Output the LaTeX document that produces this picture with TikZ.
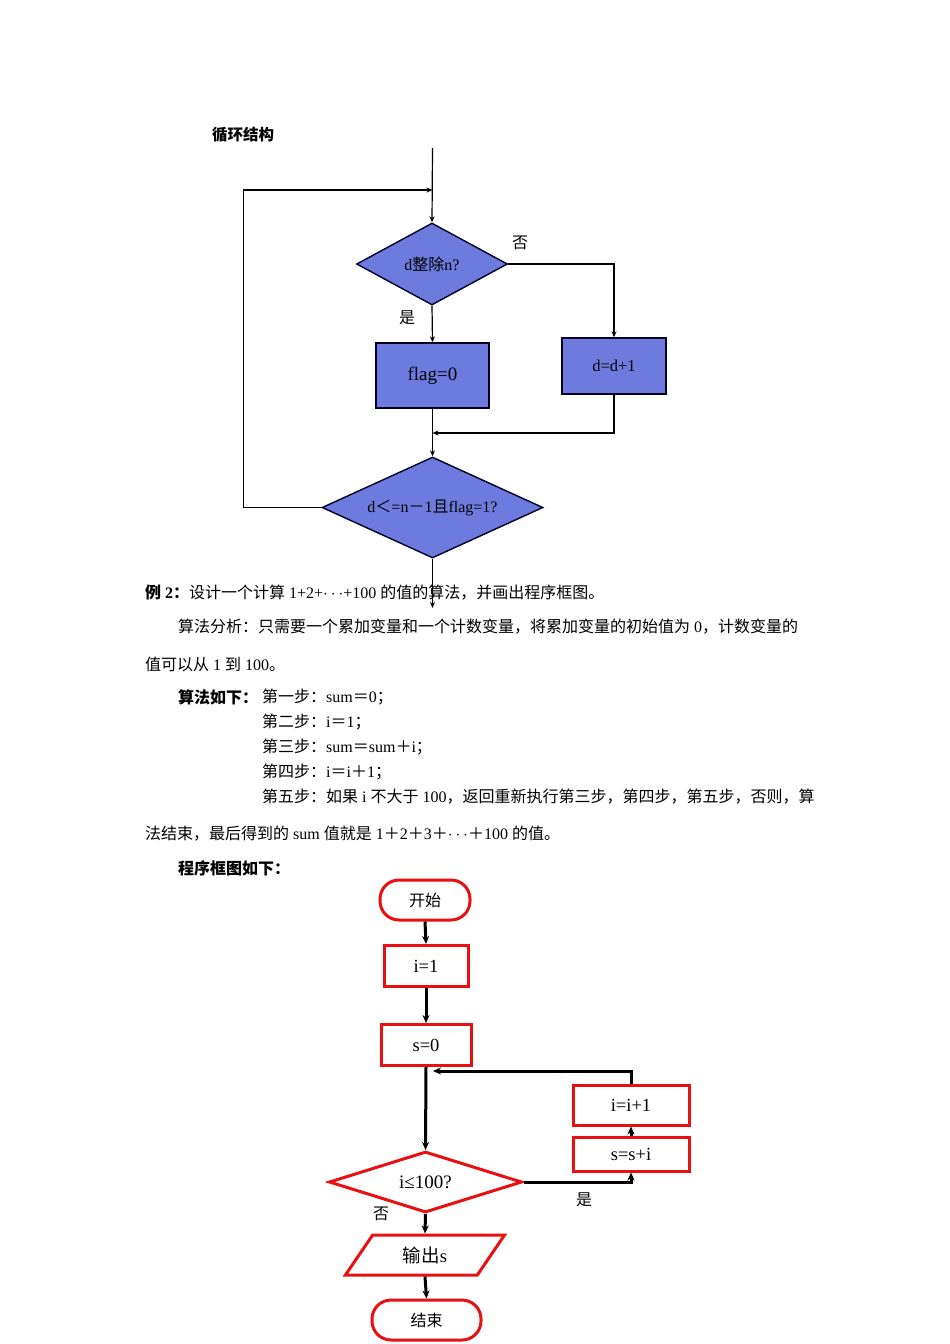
\documentclass[tikz,border=0pt]{standalone}
\usepackage{fontspec}
\setmainfont{Liberation Serif}
\newfontfamily\cjk{Noto Sans CJK SC}
\usetikzlibrary{shapes.geometric,arrows.meta}
\newcommand{\zh}[1]{{\cjk #1}}
\newcommand{\fsz}[1]{\fontsize{#1}{#1}\selectfont}
\definecolor{boxblue}{RGB}{110,123,222}
\definecolor{boxred}{RGB}{232,16,16}

\begin{document}
\begin{tikzpicture}[x=1pt,y=-1pt,>={Stealth[length=6pt,width=5pt]},
    bluebox/.style={draw=black!85!blue,line width=1.4pt,fill=boxblue,inner sep=0pt,font=\fsz{16}},
    bluetest/.style={bluebox,diamond,aspect=2},
    redbox/.style={draw=boxred,line width=3pt,inner sep=0pt,font=\fsz{18.5}},
    redend/.style={redbox,rounded corners=19pt,font=\fsz{16}},
    redtest/.style={redbox,diamond,aspect=3},
    thinline/.style={line width=1.2pt,->},
    thickline/.style={line width=3pt,-{Stealth[length=8pt,width=7pt]}},
    txt/.style={anchor=west,inner sep=0pt,font=\fsz{16}}]
    \useasboundingbox (0,0) rectangle (950,1344);

    \node[anchor=west,inner sep=0pt,font=\fsz{15.5}\bfseries] (title) at (212,135) {\zh{循环结构}};

    \node[bluetest,minimum width=151pt,minimum height=82pt] (divide) at (432,264) {d\zh{整除}n?};
    \node[bluebox,minimum width=113pt,minimum height=65pt,font=\fsz{19}] (flag) at (432.5,375.5) {flag=0};
    \node[bluebox,minimum width=104pt,minimum height=56pt,font=\fsz{16.5}] (inc) at (614,366) {d=d+1};
    \node[bluetest,minimum width=221pt,minimum height=101pt] (check) at (432.5,507.5) {d\zh{＜}=n\zh{－}1\zh{且}flag=1?};
    \coordinate (top) at (432.5,148);
    \coordinate (join) at (432.5,190);
    \coordinate (merge) at (432.5,433);
    \coordinate (out) at (432.5,608);
    \draw[thinline] (top) -- (divide.north);
    \draw[thinline] (check.west) -- ++(-78,0) |- (join);
    \draw[thinline] (divide.south) -- (flag.north);
    \draw[thinline] (divide.east) -| (inc.north);
    \draw[thinline] (flag.south) -- (check.north);
    \draw[thinline] (inc.south) |- (merge);
    \draw[thinline] (check.south) -- (out);
    \node[font=\fsz{16}] (no1) at (520,243) {\zh{否}};
    \node[font=\fsz{16}] (yes1) at (407,318) {\zh{是}};

    \node[txt] (ex) at (145,593) {\textbf{\zh{例} 2\zh{：}}\zh{设计一个计算} 1+2+$\cdots$+100 \zh{的值的算法，并画出程序框图。}};
    \node[txt] (why) at (178,627) {\zh{算法分析：只需要一个累加变量和一个计数变量，将累加变量的初始值为} 0\zh{，计数变量的}};
    \node[txt] (why2) at (145,664) {\zh{值可以从} 1 \zh{到} 100\zh{。}};
    \node[txt] (how) at (178,697) {\textbf{\zh{算法如下：}}};
    \node[txt] (s1) at (262,697) {\zh{第一步：}sum\zh{＝}0\zh{；}};
    \node[txt] (s2) at (262,722) {\zh{第二步：}i\zh{＝}1\zh{；}};
    \node[txt] (s3) at (262,747) {\zh{第三步：}sum\zh{＝}sum\zh{＋}i\zh{；}};
    \node[txt] (s4) at (262,772) {\zh{第四步：}i\zh{＝}i\zh{＋}1\zh{；}};
    \node[txt] (s5) at (262,797) {\zh{第五步：如果} i \zh{不大于} 100\zh{，返回重新执行第三步，第四步，第五步，否则，算}};
    \node[txt] (s5b) at (145,834) {\zh{法结束，最后得到的} sum \zh{值就是} 1\zh{＋}2\zh{＋}3\zh{＋}$\cdots$\zh{＋}100 \zh{的值。}};
    \node[txt] (chart) at (178,868) {\textbf{\zh{程序框图如下：}}};

    \node[redend,minimum width=90pt,minimum height=40pt] (start) at (425,900) {\zh{开始}};
    \node[redbox,minimum width=84pt,minimum height=41pt] (init) at (426,966) {i=1};
    \node[redbox,minimum width=90pt,minimum height=41pt] (zero) at (426,1045) {s=0};
    \node[redtest,minimum width=193pt,minimum height=61pt,font=\fsz{19}] (test) at (425.5,1182) {i≤100?};
    \node[redbox,minimum width=116pt,minimum height=34pt] (add) at (631,1154) {s=s+i};
    \node[redbox,minimum width=116pt,minimum height=40pt] (step) at (631,1105) {i=i+1};
    \node[redbox,trapezium,trapezium left angle=56,trapezium right angle=124,trapezium stretches=true,
      minimum width=160pt,minimum height=40pt] (print) at (425,1255) {\zh{输出}s};
    \node[redend,minimum width=109pt,minimum height=40pt] (stop) at (426.5,1320) {\zh{结束}};
    \coordinate (loop) at (433,1071);
    \draw[thickline] (start.south) -- (init.north);
    \draw[thickline] (init.south) -- (zero.north);
    \draw[thickline] (zero.south) -- (test.north);
    \draw[thickline] (test.east) -| (add.south);
    \draw[thickline] (add.north) -- (step.south);
    \draw[thickline] (step.north) |- (loop);
    \draw[thickline] (test.south) -- (print.north);
    \draw[thickline] (print.south) -- (stop.north);
    \node[font=\fsz{16}] (yes2) at (584,1200) {\zh{是}};
    \node[font=\fsz{16}] (no2) at (381,1214) {\zh{否}};
  \end{tikzpicture}
\end{document}
